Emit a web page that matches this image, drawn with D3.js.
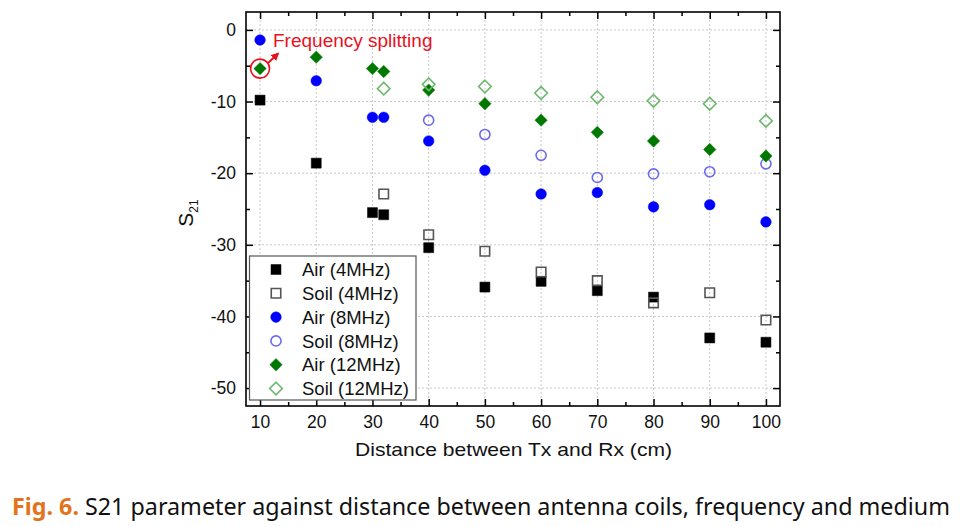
<!DOCTYPE html>
<html><head><meta charset="utf-8">
<script src="https://cdn.jsdelivr.net/npm/d3@7"></script>
<style>body{margin:0;background:#fff;} svg{display:block;}</style>
</head><body><svg id="c" width="970" height="526"></svg>
<script>
// ---- data ----
const xAir = [10, 20, 30, 32, 40, 50, 60, 70, 80, 90, 100];
const xSoil4 = [32, 40, 50, 60, 70, 80, 90, 100];
const xSoil8 = [40, 50, 60, 70, 80, 90, 100];
const xSoil12 = [32, 40, 50, 60, 70, 80, 90, 100];
const air4 = [-9.8, -18.6, -25.5, -25.8, -30.4, -35.9, -35.1, -36.4, -37.3, -43.0, -43.6];
const soil4 = [-22.9, -28.6, -30.9, -33.8, -35.0, -38.1, -36.7, -40.5];
const air8 = [-1.4, -7.1, -12.2, -12.2, -15.5, -19.6, -22.9, -22.7, -24.7, -24.4, -26.8];
const soil8 = [-12.6, -14.6, -17.5, -20.6, -20.1, -19.8, -18.7];
const air12 = [-5.4, -3.8, -5.4, -5.8, -8.4, -10.3, -12.6, -14.3, -15.5, -16.7, -17.6];
const soil12 = [-8.2, -7.6, -7.9, -8.8, -9.4, -9.9, -10.3, -12.7];
const seriesNames = ["Air (4MHz)", "Soil (4MHz)", "Air (8MHz)", "Soil (8MHz)", "Air (12MHz)", "Soil (12MHz)"];
const xTicks = [10, 20, 30, 40, 50, 60, 70, 80, 90, 100];
const yTicks = [0, -10, -20, -30, -40, -50];

const series = [
  {name: seriesNames[0], xs: xAir, ys: air4, shape: "square", fill: "#000", stroke: "#000"},
  {name: seriesNames[1], xs: xSoil4, ys: soil4, shape: "square", fill: "none", stroke: "#555"},
  {name: seriesNames[2], xs: xAir, ys: air8, shape: "circle", fill: "#0000ff", stroke: "#0000ff"},
  {name: seriesNames[3], xs: xSoil8, ys: soil8, shape: "circle", fill: "none", stroke: "#6a6aee"},
  {name: seriesNames[4], xs: xAir, ys: air12, shape: "diamond", fill: "#007800", stroke: "#007800"},
  {name: seriesNames[5], xs: xSoil12, ys: soil12, shape: "diamond", fill: "none", stroke: "#6cb86c"}
];

const svg = d3.select("#c");
const L = 246, R = 780, T = 12, B = 406;
const x = d3.scaleLinear().domain([7.5, 102.5]).range([L, R]);
const y = d3.scaleLinear().domain([-52.5, 2.5]).range([B, T]);
const font = "Arial, 'Liberation Sans', Helvetica, sans-serif";

// grid
const g = svg.append("g");
g.selectAll(".vg").data(xTicks).join("line")
  .attr("x1", d => x(d)).attr("x2", d => x(d)).attr("y1", T).attr("y2", B)
  .attr("stroke", "#c8c8c8").attr("stroke-width", 1).attr("stroke-dasharray", "2,2");
g.selectAll(".hg").data(yTicks).join("line")
  .attr("y1", d => y(d)).attr("y2", d => y(d)).attr("x1", L).attr("x2", R)
  .attr("stroke", "#c8c8c8").attr("stroke-width", 1).attr("stroke-dasharray", "2,2");

// axes with inward ticks
const fmt = d => String(d);
const xMinor = d3.range(15, 101, 10);
const yMinor = [-5, -15, -25, -35, -45];
const axB = d3.axisBottom(x).tickValues(xTicks).tickSize(-7).tickPadding(10).tickFormat(fmt);
const axT = d3.axisTop(x).tickValues(xTicks).tickSize(-7).tickFormat("");
const axL = d3.axisLeft(y).tickValues(yTicks).tickSize(-7).tickPadding(10).tickFormat(fmt);
const axR = d3.axisRight(y).tickValues(yTicks).tickSize(-7).tickFormat("");
function style(sel) {
  sel.select(".domain").remove();
  sel.selectAll("line").attr("stroke", "#000").attr("stroke-width", 1.5);
  sel.selectAll("text").attr("font-family", font).attr("font-size", 17.5).attr("fill", "#111");
}
svg.append("g").attr("transform", `translate(0,${B})`).call(axB).call(style)
  .call(s => s.selectAll("text").attr("y", 22).attr("dy", null));
svg.append("g").attr("transform", `translate(0,${T})`).call(axT).call(style);
svg.append("g").attr("transform", `translate(${L},0)`).call(axL).call(style);
svg.append("g").attr("transform", `translate(${R},0)`).call(axR).call(style);
// minor ticks
svg.append("g").attr("transform", `translate(0,${B})`).call(d3.axisBottom(x).tickValues(xMinor).tickSize(-4).tickFormat("")).call(style);
svg.append("g").attr("transform", `translate(0,${T})`).call(d3.axisTop(x).tickValues(xMinor).tickSize(-4).tickFormat("")).call(style);
svg.append("g").attr("transform", `translate(${L},0)`).call(d3.axisLeft(y).tickValues(yMinor).tickSize(-4).tickFormat("")).call(style);
svg.append("g").attr("transform", `translate(${R},0)`).call(d3.axisRight(y).tickValues(yMinor).tickSize(-4).tickFormat("")).call(style);

// frame
svg.append("rect").attr("x", L).attr("y", T).attr("width", R - L).attr("height", B - T)
  .attr("fill", "none").attr("stroke", "#000").attr("stroke-width", 1.6);

// symbols
function symPath(shape, open) {
  if (shape === "square") return d3.symbol().type(d3.symbolSquare).size(open ? 90 : 100)();
  if (shape === "circle") return d3.symbol().type(d3.symbolCircle).size(open ? 80 : 88)();
  const h = open ? 6.3 : 6.2;
  return `M0,${-h}L${h},0L0,${h}L${-h},0Z`;
}
function drawMarker(sel, s) {
  const open = s.fill === "none";
  sel.attr("d", symPath(s.shape, open))
    .attr("fill", open ? "none" : s.fill)
    .attr("stroke", s.stroke)
    .attr("stroke-width", open ? 1.6 : 0.5);
}
series.forEach(s => {
  svg.append("g").selectAll("path").data(s.xs.map((xv, i) => [xv, s.ys[i]])).join("path")
    .attr("transform", d => `translate(${x(d[0])},${y(d[1])})`)
    .call(sel => drawMarker(sel, s));
});

// legend
const lg = svg.append("g");
lg.append("rect").attr("x", 249.5).attr("y", 256).attr("width", 166.5).attr("height", 144)
  .attr("fill", "#fff").attr("stroke", "#555").attr("stroke-width", 1.2);
series.forEach((s, i) => {
  const yy = 269.5 + i * 23.8;
  lg.append("path").attr("transform", `translate(276,${yy})`).call(sel => drawMarker(sel, s));
  lg.append("text").attr("x", 302).attr("y", yy + 6.6)
    .attr("font-family", font).attr("font-size", 18.5).attr("fill", "#111").text(s.name);
});

// annotation
const cx = x(10), cy = y(air12[0]);
svg.append("circle").attr("cx", cx).attr("cy", cy).attr("r", 9.5)
  .attr("fill", "none").attr("stroke", "#e8101c").attr("stroke-width", 1.6);
svg.append("defs").append("marker").attr("id", "ah").attr("viewBox", "0 0 10 10")
  .attr("refX", 8).attr("refY", 5).attr("markerWidth", 4).attr("markerHeight", 4).attr("orient", "auto")
  .append("path").attr("d", "M0,0 L10,5 L0,10 z").attr("fill", "#e8101c");
svg.append("line").attr("x1", cx + 8).attr("y1", cy - 5.5).attr("x2", cx + 18).attr("y2", cy - 15)
  .attr("stroke", "#e8101c").attr("stroke-width", 2).attr("marker-end", "url(#ah)");
svg.append("text").attr("x", 273).attr("y", 47)
  .attr("font-family", font).attr("font-size", 19).attr("fill", "#e8101c").text("Frequency splitting");

// axis titles
svg.append("text").attr("x", 355).attr("y", 456)
  .attr("textLength", 317).attr("lengthAdjust", "spacingAndGlyphs")
  .attr("font-family", font).attr("font-size", 18.5).attr("fill", "#111").text("Distance between Tx and Rx (cm)");
const yl = svg.append("text").attr("transform", `translate(193,${(T + B) / 2 + 4}) rotate(-90)`)
  .attr("text-anchor", "middle").attr("font-family", font).attr("font-size", 21).attr("fill", "#111");
yl.append("tspan").text("S");
yl.append("tspan").attr("font-size", 12).attr("dy", 5).text("21");

// caption
const cap = svg.append("text").attr("x", 12).attr("y", 515)
  .attr("font-family", "'Noto Sans', 'Open Sans', sans-serif").attr("font-size", 23)
  .attr("textLength", 938).attr("lengthAdjust", "spacingAndGlyphs");
cap.append("tspan").attr("fill", "#e2731c").attr("font-weight", "bold").text("Fig. 6. ");
cap.append("tspan").attr("fill", "#111").text("S21 parameter against distance between antenna coils, frequency and medium");
</script></body></html>
